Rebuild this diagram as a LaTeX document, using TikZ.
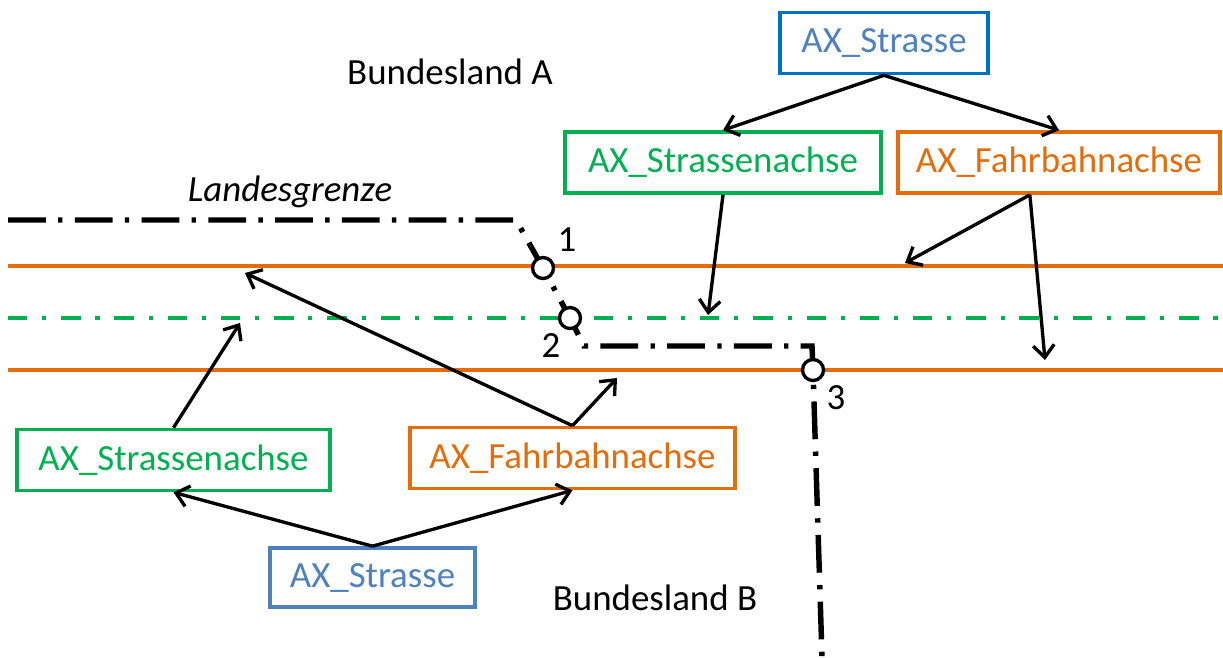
\documentclass[tikz,border=0pt]{standalone}
\usepackage{fontspec}
\setmainfont{Carlito}
\usetikzlibrary{arrows.meta}

\definecolor{axblue}{HTML}{0070C0}
\definecolor{axlblue}{HTML}{4F81BD}
\definecolor{axgreen}{HTML}{00B050}
\definecolor{axorange}{HTML}{E46C0A}

\tikzset{
	obj/.style={draw,line width=2.1pt,minimum height=1.22cm,inner sep=0pt},
	knot/.style={circle,draw,fill=white,line width=1.9pt,minimum size=0.42cm,inner sep=0pt},
	ref/.style={-{Straight Barb[length=7pt,width=12pt]},line width=1.9pt},
	road/.style={axorange,line width=2.6pt},
}

\begin{document}
\begin{tikzpicture}[x=0.02cm,y=-0.02cm,font=\fontsize{21}{25}\selectfont]
		\useasboundingbox (0,0) rectangle (1223,657);
		
		% Fahrbahnen und Strassenachse
		\draw[road] (8,266) -- (1223,266);
		\draw[road] (8,370) -- (1223,370);
		\draw[axgreen,line width=2.8pt,dash pattern=on 11pt off 8.5pt on 2.3pt off 8.5pt] (8,318) -- (1223,318);
		
		% Landesgrenze
		\draw[line width=3.1pt,dash pattern=on 21.5pt off 7pt on 2.5pt off 7pt] (8,220) -- (516,220) -- (543,268) -- (570,318) -- (584,346) -- (812,346) -- (813,370) -- (822,657);
		\node[knot] (p1) at(543,268) {};
		\node[knot] (p2) at(570,318) {};
		\node[knot] (p3) at(813,370) {};
		\node (n1) at(567,240) {1};
		\node (n2) at(551,346) {2};
		\node (n3) at(836,398) {3};
		
		\node (landA) at(450,72) {Bundesland A};
		\node (landB) at(655,598) {Bundesland B};
		\node (grenze) at(290,192) {\itshape Landesgrenze};
		
		% Objekte Bundesland A
		\node[obj,axblue,text=axlblue,minimum width=4.16cm] (strasseA) at(884,43) {AX\_Strasse};
		\node[obj,axgreen,minimum width=6.32cm] (sachseA) at(723,162.5) {AX\_Strassenachse};
		\node[obj,axorange,minimum width=6.44cm] (fachseA) at(1059,162.5) {AX\_Fahrbahnachse};
		
		% Objekte Bundesland B
		\node[obj,axgreen,minimum width=6.26cm] (sachseB) at(173.5,460) {AX\_Strassenachse};
		\node[obj,axorange,minimum width=6.5cm] (fachseB) at(572.5,458) {AX\_Fahrbahnachse};
		\node[obj,axlblue,minimum width=4.1cm,minimum height=1.18cm] (strasseB) at(372.5,577.5) {AX\_Strasse};
		
		\coordinate (gA) at(708,315);
		\coordinate (oA1) at(905,263);
		\coordinate (oA2) at(1045,360);
		\coordinate (gB) at(240,323);
		\coordinate (oB1) at(245,273);
		\coordinate (oB2) at(617,378);
		
		\draw[ref] (strasseA.south) -- (sachseA.north);
		\draw[ref] (strasseA.south) -- (fachseA.north);
		\draw[ref] (sachseA.south) -- (gA);
		\draw[ref] (fachseA.228) -- (oA1);
		\draw[ref] (fachseA.228) -- (oA2);
		
		\draw[ref] (strasseB.north) -- (sachseB.south);
		\draw[ref] (strasseB.north) -- (fachseB.south);
		\draw[ref] (sachseB.north) -- (gB);
		\draw[ref] (fachseB.north) -- (oB1);
		\draw[ref] (fachseB.north) -- (oB2);
\end{tikzpicture}
\end{document}
